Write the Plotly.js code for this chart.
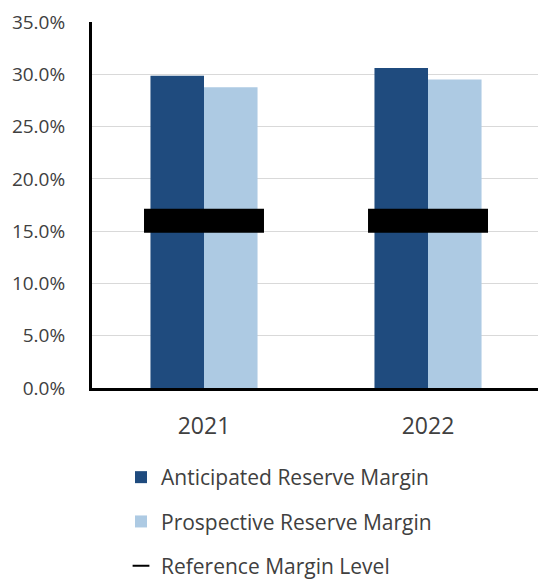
<!DOCTYPE html>
<html>
<head>
<meta charset="utf-8">
<script src="https://cdn.plot.ly/plotly-3.0.1.min.js"></script>
<style>html,body{margin:0;padding:0;background:#fff;}#chart{width:538px;height:582px;}</style>
</head>
<body>
<div id="chart"></div>
<script>
var years = ['2021', '2022'];
var anticipated = [29.85, 30.6];
var prospective = [28.75, 29.5];
var referenceLevel = [16.0, 16.0];
var yTickVals = [0, 5, 10, 15, 20, 25, 30, 35];
var yTickText = ['0.0%', '5.0%', '10.0%', '15.0%', '20.0%', '25.0%', '30.0%', '35.0%'];

var font = '"Open Sans", "Noto Sans", sans-serif';
var textColor = '#404040';

var traces = [
  {type: 'bar', name: 'Anticipated Reserve Margin', x: years, y: anticipated,
   marker: {color: '#1f4b7e'}, legendgroup: 'a', hoverinfo: 'skip'},
  {type: 'bar', name: 'Prospective Reserve Margin', x: years, y: prospective,
   marker: {color: '#adcae3'}, legendgroup: 'b', hoverinfo: 'skip'},
  {type: 'scatter', mode: 'markers', name: 'Reference Margin Level', x: years, y: referenceLevel,
   marker: {symbol: 'line-ew', size: 85.7, color: '#000', line: {color: '#000', width: 24}},
   legendgroup: 'c', hoverinfo: 'skip'}
];

var layout = {
  width: 538, height: 582,
  margin: {l: 92, r: 0, t: 22, b: 193.5, autoexpand: false},
  paper_bgcolor: '#fff', plot_bgcolor: '#fff',
  barmode: 'group', bargap: 0.522, bargroupgap: 0,
  font: {family: font, color: textColor},
  xaxis: {
    type: 'category', range: [-0.5, 1.491], tickangle: 0,
    showline: true, linecolor: '#000', linewidth: 3,
    showgrid: false, ticks: '', ticklabelstandoff: 15,
    tickfont: {size: 23, color: textColor, family: font}
  },
  yaxis: {
    range: [0, 35], tickvals: yTickVals, ticktext: yTickText,
    showline: true, linecolor: '#000', linewidth: 3,
    showgrid: true, gridcolor: '#d9d9d9', gridwidth: 1,
    zeroline: false, ticks: '', ticklabelstandoff: 20,
    tickfont: {size: 19, color: textColor, family: font}
  },
  showlegend: true,
  legend: {
    xref: 'container', yref: 'container',
    x: 121 / 538, xanchor: 'left', y: 1 - 457 / 582, yanchor: 'top',
    orientation: 'v', traceorder: 'grouped', tracegroupgap: 14,
    itemsizing: 'constant',
    font: {size: 21, color: textColor, family: font},
    bgcolor: 'rgba(0,0,0,0)'
  }
};

Plotly.newPlot('chart', traces, layout, {displayModeBar: false, staticPlot: true});
</script>
</body>
</html>
